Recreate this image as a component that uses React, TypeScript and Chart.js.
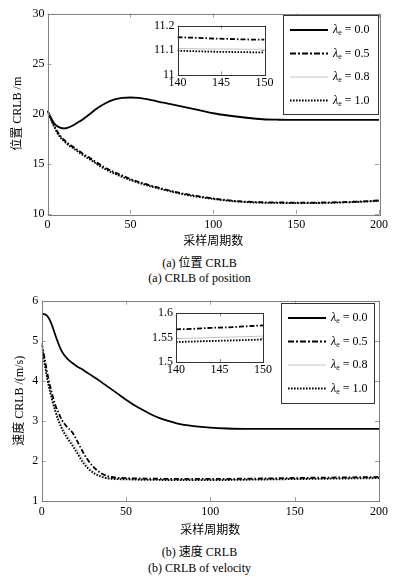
import React, { useEffect, useRef } from "react";
import { Chart, registerables } from "chart.js";
Chart.register(...registerables);

const FONT = "'Liberation Serif', 'Noto Sans CJK SC', serif";

// ---------- data: position CRLB ----------
const posX = [0, 2, 4, 6, 8, 10, 12, 15, 18, 21, 25, 30, 35, 40, 45, 50, 55, 60, 70, 80, 90, 100, 110, 120, 130, 140, 150, 160, 170, 180, 190, 200];
const posL00 = [20.3, 19.6, 19.05, 18.75, 18.6, 18.55, 18.6, 18.8, 19.1, 19.4, 19.9, 20.55, 21.05, 21.4, 21.58, 21.62, 21.58, 21.45, 21.1, 20.75, 20.4, 20.05, 19.8, 19.6, 19.45, 19.4, 19.38, 19.38, 19.38, 19.38, 19.38, 19.38];
const posL05 = [20.3, 19.55, 18.85, 18.2, 17.75, 17.4, 17.1, 16.75, 16.4, 16.05, 15.65, 15.1, 14.6, 14.2, 13.85, 13.5, 13.2, 12.95, 12.5, 12.1, 11.8, 11.55, 11.35, 11.23, 11.17, 11.15, 11.14, 11.14, 11.16, 11.2, 11.26, 11.35];
const posL08 = [20.3, 19.48, 18.74, 18.1, 17.64, 17.3, 17.0, 16.65, 16.3, 15.95, 15.55, 15.0, 14.5, 14.1, 13.75, 13.42, 13.13, 12.88, 12.45, 12.06, 11.75, 11.52, 11.32, 11.2, 11.14, 11.106, 11.103, 11.1, 11.12, 11.17, 11.23, 11.32];
const posL10 = [20.3, 19.45, 18.7, 18.05, 17.6, 17.25, 16.95, 16.6, 16.25, 15.9, 15.5, 14.95, 14.45, 14.05, 13.7, 13.38, 13.1, 12.85, 12.42, 12.03, 11.73, 11.5, 11.3, 11.18, 11.12, 11.1, 11.09, 11.09, 11.11, 11.15, 11.22, 11.3];

const posInsetX = [140, 142, 144, 146, 148, 150];
const posInsetL05 = [11.152, 11.15, 11.147, 11.145, 11.143, 11.142];
const posInsetL08 = [11.106, 11.105, 11.104, 11.104, 11.103, 11.103];
const posInsetL10 = [11.097, 11.095, 11.093, 11.092, 11.091, 11.09];

// ---------- data: velocity CRLB ----------
const velX = [0, 2, 4, 6, 8, 10, 12, 15, 18, 21, 25, 30, 35, 40, 45, 50, 55, 60, 65, 70, 75, 80, 90, 100, 110, 120, 130, 140, 150, 160, 170, 180, 190, 200];
const velL00 = [5.67, 5.66, 5.58, 5.4, 5.15, 4.92, 4.73, 4.56, 4.45, 4.36, 4.26, 4.12, 3.98, 3.83, 3.68, 3.53, 3.39, 3.27, 3.16, 3.07, 3.0, 2.94, 2.87, 2.83, 2.81, 2.8, 2.8, 2.8, 2.8, 2.8, 2.8, 2.8, 2.8, 2.8];
const velL05 = [4.95, 4.5, 4.05, 3.7, 3.4, 3.2, 3.02, 2.85, 2.72, 2.5, 2.18, 1.88, 1.7, 1.61, 1.58, 1.57, 1.565, 1.56, 1.557, 1.555, 1.553, 1.55, 1.55, 1.55, 1.553, 1.557, 1.562, 1.568, 1.575, 1.58, 1.585, 1.59, 1.595, 1.6];
const velL08 = [4.9, 4.39, 3.94, 3.59, 3.29, 3.06, 2.86, 2.65, 2.48, 2.28, 2.0, 1.76, 1.63, 1.57, 1.555, 1.547, 1.541, 1.538, 1.535, 1.533, 1.53, 1.528, 1.528, 1.528, 1.532, 1.536, 1.542, 1.548, 1.553, 1.558, 1.563, 1.568, 1.573, 1.578];
const velL10 = [4.88, 4.35, 3.9, 3.55, 3.25, 3.0, 2.8, 2.58, 2.4, 2.2, 1.93, 1.72, 1.61, 1.56, 1.545, 1.54, 1.533, 1.53, 1.527, 1.525, 1.522, 1.52, 1.52, 1.52, 1.524, 1.529, 1.535, 1.541, 1.546, 1.551, 1.556, 1.561, 1.566, 1.57];

const velInsetX = [140, 142, 144, 146, 148, 150];
const velInsetL05 = [1.567, 1.568, 1.57, 1.571, 1.573, 1.575];
const velInsetL08 = [1.548, 1.549, 1.55, 1.551, 1.552, 1.553];
const velInsetL10 = [1.541, 1.542, 1.543, 1.544, 1.545, 1.546];

// ---------- ticks & labels ----------
const mainXTicks = [0, 50, 100, 150, 200];
const posYTicks = [10, 15, 20, 25, 30];
const velYTicks = [1, 2, 3, 4, 5, 6];
const insetXTicks = [140, 145, 150];
const posInsetYTicks = [11, 11.1, 11.2];
const velInsetYTicks = [1.5, 1.55, 1.6];
const legendValues = ["0.0", "0.5", "0.8", "1.0"];

// ---------- styles ----------
const STYLES = [
  { color: "#000000", width: 1.8, dash: [] as number[], legendDash: [] as number[] },
  { color: "#000000", width: 1.8, dash: [5, 2, 1.5, 2], legendDash: [6, 2, 2, 2] },
  { color: "#c4c4c4", width: 1, dash: [] as number[], legendDash: [] as number[] },
  { color: "#000000", width: 1.8, dash: [1.6, 1.4], legendDash: [1.6, 1.4] },
];

type Cfg = {
  xs: number[];
  series: number[][];
  styleIdx: number[];
  xMin: number; xMax: number; xTicks: number[];
  yMin: number; yMax: number; yTicks: number[];
  padTop: number; padRight: number;
  yWidth: number; xHeight: number;
  xTickPad: number; yTickPad: number;
  xTitle?: string; yTitle?: string;
  xTitlePad?: number; yTitlePad?: number;
  tickLen: number; frameColor: string; tickColor: string;
  legend?: { right: number; top: number; w: number; h: number };
  whiteArea?: boolean;
};

function makeConfig(c: Cfg): any {
  const font = { family: FONT, size: 12 };
  const datasets = c.series.map((ys, i) => {
    const st = STYLES[c.styleIdx[i]];
    return {
      data: c.xs.map((x, j) => ({ x, y: ys[j] })),
      borderColor: st.color,
      borderWidth: st.width,
      borderDash: st.dash,
      pointRadius: 0,
      fill: false,
      cubicInterpolationMode: "monotone",
      order: c.styleIdx[i] === 2 ? 10 : i,
    };
  });

  const framePlugin = {
    id: "frame",
    beforeDraw(chart: any) {
      if (!c.whiteArea) return;
      const { ctx, chartArea: a } = chart;
      ctx.save();
      ctx.fillStyle = "#ffffff";
      ctx.fillRect(a.left, a.top, a.right - a.left, a.bottom - a.top);
      ctx.restore();
    },
    afterDatasetsDraw(chart: any) {
      const { ctx, chartArea: a } = chart;
      const xs = chart.scales.x;
      const ys = chart.scales.y;
      ctx.save();
      ctx.strokeStyle = c.tickColor;
      ctx.lineWidth = 1;
      ctx.beginPath();
      c.xTicks.forEach((v) => {
        const px = Math.round(xs.getPixelForValue(v)) + 0.5;
        ctx.moveTo(px, a.bottom);
        ctx.lineTo(px, a.bottom - c.tickLen);
        ctx.moveTo(px, a.top);
        ctx.lineTo(px, a.top + c.tickLen);
      });
      c.yTicks.forEach((v) => {
        const py = Math.round(ys.getPixelForValue(v)) + 0.5;
        ctx.moveTo(a.left, py);
        ctx.lineTo(a.left + c.tickLen, py);
        ctx.moveTo(a.right, py);
        ctx.lineTo(a.right - c.tickLen, py);
      });
      ctx.stroke();
      ctx.strokeStyle = c.frameColor;
      ctx.strokeRect(Math.round(a.left) + 0.5, Math.round(a.top) + 0.5, Math.round(a.right - a.left), Math.round(a.bottom - a.top));
      ctx.restore();
    },
    afterDraw(chart: any) {
      if (!c.legend) return;
      const L = c.legend;
      const { ctx, chartArea: a } = chart;
      const x0 = Math.round(a.right - L.right - L.w);
      const y0 = Math.round(a.top + L.top);
      ctx.save();
      ctx.fillStyle = "#ffffff";
      ctx.fillRect(x0, y0, L.w, L.h);
      ctx.strokeStyle = "#333333";
      ctx.lineWidth = 1;
      ctx.strokeRect(x0 + 0.5, y0 + 0.5, L.w - 1, L.h - 1);
      legendValues.forEach((val, i) => {
        const st = STYLES[i];
        const y = y0 + 15 + i * 23.5;
        ctx.beginPath();
        ctx.setLineDash(st.legendDash);
        ctx.strokeStyle = st.color;
        ctx.lineWidth = st.width;
        ctx.moveTo(x0 + 7, y);
        ctx.lineTo(x0 + 45, y);
        ctx.stroke();
        ctx.setLineDash([]);
        ctx.fillStyle = "#000000";
        ctx.textBaseline = "middle";
        ctx.textAlign = "left";
        let tx = x0 + 50;
        ctx.font = `italic 12px ${FONT}`;
        ctx.fillText("λ", tx, y);
        tx += ctx.measureText("λ").width;
        ctx.font = `8px ${FONT}`;
        ctx.fillText("e", tx, y + 3);
        tx += ctx.measureText("e").width;
        ctx.font = `12px ${FONT}`;
        ctx.fillText(" = " + val, tx, y);
      });
      ctx.restore();
    },
  };

  return {
    type: "line",
    data: { datasets },
    plugins: [framePlugin],
    options: {
      animation: false,
      responsive: false,
      maintainAspectRatio: false,
      layout: { padding: { top: c.padTop, right: c.padRight, left: 0, bottom: 0 } },
      plugins: { legend: { display: false }, tooltip: { enabled: false }, title: { display: false } },
      scales: {
        x: {
          type: "linear",
          min: c.xMin,
          max: c.xMax,
          afterBuildTicks: (s: any) => { s.ticks = c.xTicks.map((v) => ({ value: v })); },
          afterFit: (s: any) => { s.height = c.xHeight; },
          ticks: { font, color: "#000", padding: c.xTickPad, maxRotation: 0, autoSkip: false, callback: (v: any) => String(v) },
          grid: { display: false, drawTicks: false },
          border: { display: false },
          title: { display: !!c.xTitle, text: c.xTitle || "", font, color: "#000", padding: { top: 0, bottom: c.xTitlePad || 0 } },
        },
        y: {
          type: "linear",
          min: c.yMin,
          max: c.yMax,
          afterBuildTicks: (s: any) => { s.ticks = c.yTicks.map((v) => ({ value: v })); },
          afterFit: (s: any) => { s.width = c.yWidth; },
          ticks: { font, color: "#000", padding: c.yTickPad, autoSkip: false, callback: (v: any) => String(v) },
          grid: { display: false, drawTicks: false },
          border: { display: false },
          title: { display: !!c.yTitle, text: c.yTitle || "", font, color: "#000", padding: { top: c.yTitlePad || 0, bottom: 0 } },
        },
      },
    },
  };
}

function ChartBox({ cfg, left, top, width, height }: { cfg: Cfg; left: number; top: number; width: number; height: number }) {
  const ref = useRef<HTMLCanvasElement>(null);
  useEffect(() => {
    const chart = new Chart(ref.current as HTMLCanvasElement, makeConfig(cfg));
    return () => chart.destroy();
  }, []);
  return (
    <div style={{ position: "absolute", left, top, width, height }}>
      <canvas ref={ref} width={width} height={height} style={{ width, height, display: "block" }} />
    </div>
  );
}

const posMain: Cfg = {
  xs: posX, series: [posL00, posL05, posL08, posL10], styleIdx: [0, 1, 2, 3],
  xMin: 0, xMax: 200, xTicks: mainXTicks, yMin: 10, yMax: 30, yTicks: posYTicks,
  padTop: 13.5, padRight: 20, yWidth: 47.5, xHeight: 36, xTickPad: 4, yTickPad: 3,
  xTitle: "采样周期数", yTitle: "位置 CRLB /m", xTitlePad: 1, yTitlePad: 10.5,
  tickLen: 4, frameColor: "#808080", tickColor: "#a0a0a0",
  legend: { right: 0, top: 1.5, w: 96, h: 100 },
};
const posInset: Cfg = {
  xs: posInsetX, series: [posInsetL05, posInsetL08, posInsetL10], styleIdx: [1, 2, 3],
  xMin: 140, xMax: 150, xTicks: insetXTicks, yMin: 11, yMax: 11.2, yTicks: posInsetYTicks,
  padTop: 10.5, padRight: 10.5, yWidth: 42.5, xHeight: 20.5, xTickPad: 1.5, yTickPad: 3,
  tickLen: 3, frameColor: "#333333", tickColor: "#888888", whiteArea: true,
};
const velMain: Cfg = {
  xs: velX, series: [velL00, velL05, velL08, velL10], styleIdx: [0, 1, 2, 3],
  xMin: 0, xMax: 200, xTicks: mainXTicks, yMin: 1, yMax: 6, yTicks: velYTicks,
  padTop: 10, padRight: 20, yWidth: 41.7, xHeight: 39, xTickPad: 4, yTickPad: 3.5,
  xTitle: "采样周期数", yTitle: "速度 CRLB /(m/s)", xTitlePad: 1.8, yTitlePad: 12.5,
  tickLen: 4, frameColor: "#808080", tickColor: "#a0a0a0",
  legend: { right: 4, top: 2, w: 94, h: 101 },
};
const velInset: Cfg = {
  xs: velInsetX, series: [velInsetL05, velInsetL08, velInsetL10], styleIdx: [1, 2, 3],
  xMin: 140, xMax: 150, xTicks: insetXTicks, yMin: 1.5, yMax: 1.6, yTicks: velInsetYTicks,
  padTop: 10, padRight: 11, yWidth: 42, xHeight: 21, xTickPad: 1, yTickPad: 3,
  tickLen: 3, frameColor: "#333333", tickColor: "#888888", whiteArea: true,
};

const capStyle: React.CSSProperties = {
  position: "absolute", left: 0, width: 399, textAlign: "center",
  fontFamily: FONT, fontSize: 12, lineHeight: "16px", color: "#000", whiteSpace: "nowrap",
};

export default function App() {
  return (
    <div style={{ position: "absolute", left: 0, top: 0, width: 399, height: 581, background: "#fff", overflow: "hidden" }}>
      <ChartBox cfg={posMain} left={0} top={0} width={399} height={250} />
      <ChartBox cfg={posInset} left={135} top={15} width={140} height={80} />
      <div style={{ ...capStyle, top: 255 }}>(a) 位置 CRLB</div>
      <div style={{ ...capStyle, top: 270 }}>(a) CRLB of position</div>
      <ChartBox cfg={velMain} left={0} top={290} width={399} height={250} />
      <ChartBox cfg={velInset} left={134} top={303} width={140} height={80} />
      <div style={{ ...capStyle, top: 544 }}>(b) 速度 CRLB</div>
      <div style={{ ...capStyle, top: 560 }}>(b) CRLB of velocity</div>
    </div>
  );
}
